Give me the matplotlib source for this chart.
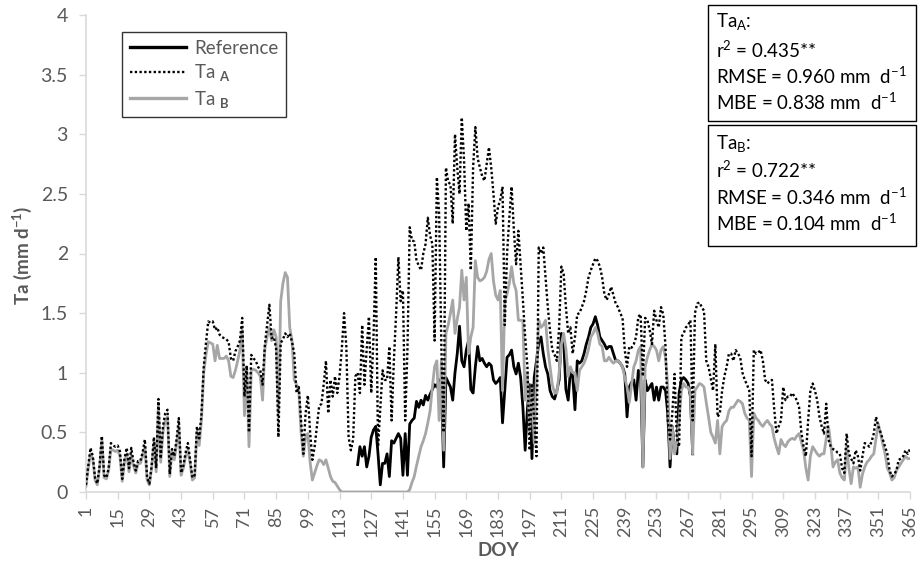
import matplotlib
matplotlib.use("Agg")
import matplotlib.pyplot as plt
from matplotlib.lines import Line2D
from matplotlib.patches import Rectangle
import numpy as np

plt.rcParams['font.family'] = ['Lato', 'DejaVu Sans']
plt.rcParams['mathtext.fontset'] = 'custom'
plt.rcParams['mathtext.rm'] = 'Lato'
plt.rcParams['mathtext.it'] = 'Lato:italic'
plt.rcParams['mathtext.bf'] = 'Lato:bold'

# ---------------- data ----------------
doy = list(range(1, 366))

ta_b = [
    0.05, 0.2, 0.32, 0.28, 0.1, 0.06, 0.2, 0.44, 0.12, 0.11,
    0.18, 0.36, 0.35, 0.34, 0.35, 0.3, 0.09, 0.25, 0.32, 0.17,
    0.31, 0.22, 0.16, 0.24, 0.24, 0.3, 0.38, 0.1, 0.06, 0.2,
    0.41, 0.17, 0.72, 0.25, 0.5, 0.6, 0.63, 0.13, 0.34, 0.27,
    0.4, 0.55, 0.14, 0.2, 0.3, 0.35, 0.24, 0.1, 0.12, 0.5,
    0.39, 0.6, 1.0, 1.15, 1.26, 1.25, 1.24, 1.1, 1.23, 1.12,
    1.12, 1.12, 1.14, 1.1, 0.97, 0.96, 1.02, 1.1, 1.19, 1.36,
    0.64, 1.05, 0.38, 1.02, 1.03, 1.02, 1.0, 0.97, 0.77, 1.2,
    1.3, 1.38, 1.27, 1.36, 1.3, 0.66, 1.6, 1.75, 1.84, 1.8,
    1.38, 1.27, 0.94, 0.9, 0.85, 0.5, 0.3, 0.46, 0.49, 0.25,
    0.1, 0.16, 0.22, 0.27, 0.26, 0.23, 0.27, 0.2, 0.13, 0.09,
    0.08, 0.05, 0.02, 0.0, 0.0, 0.0, 0.0, 0.0, 0.0, 0.0,
    0.0, 0.0, 0.0, 0.0, 0.0, 0.0, 0.0, 0.0, 0.0, 0.0,
    0.0, 0.0, 0.0, 0.0, 0.0, 0.0, 0.0, 0.0, 0.0, 0.0,
    0.0, 0.0, 0.0, 0.02, 0.08, 0.13, 0.22, 0.3, 0.38, 0.43,
    0.49, 0.58, 0.68, 0.88, 1.05, 1.1, 0.6, 1.1, 0.35, 1.33,
    1.4, 1.5, 1.61, 1.33, 1.45, 1.55, 1.86, 1.61, 1.8, 1.16,
    1.3, 1.38, 1.94, 1.8, 1.77, 1.78, 1.8, 1.85, 1.95, 2.0,
    1.77, 1.65, 1.61, 1.69, 0.85, 1.6, 1.66, 1.75, 1.89, 1.75,
    1.69, 1.44, 1.44, 1.44, 0.77, 1.0, 0.49, 0.9, 0.41, 1.0,
    1.44, 1.38, 1.4, 1.44, 1.2, 1.05, 0.9, 0.83, 0.83, 1.0,
    1.24, 1.33, 1.2, 0.97, 1.05, 1.0, 1.0, 0.85, 1.02, 1.05,
    1.08, 1.13, 1.2, 1.3, 1.33, 1.38, 1.33, 1.24, 1.22, 1.1,
    1.1, 1.13, 1.1, 1.08, 1.1, 1.1, 1.08, 1.05, 0.96, 0.88,
    0.75, 0.9, 1.05, 1.1, 1.19, 1.22, 0.21, 1.05, 1.13, 1.19,
    1.24, 1.22, 1.19, 1.1, 1.19, 1.22, 1.13, 0.88, 0.28, 0.55,
    0.32, 0.41, 0.6, 0.85, 0.91, 0.88, 0.88, 0.83, 0.32, 0.85,
    0.88, 0.91, 0.9, 0.88, 0.75, 0.63, 0.5, 0.46, 0.41, 0.6,
    0.32, 0.55, 0.58, 0.6, 0.68, 0.71, 0.71, 0.74, 0.77, 0.76,
    0.74, 0.66, 0.62, 0.6, 0.13, 0.66, 0.62, 0.6, 0.57, 0.55,
    0.58, 0.6, 0.57, 0.55, 0.45, 0.38, 0.32, 0.44, 0.4, 0.38,
    0.42, 0.44, 0.45, 0.44, 0.47, 0.49, 0.42, 0.35, 0.2, 0.1,
    0.3, 0.38, 0.35, 0.32, 0.3, 0.32, 0.32, 0.45, 0.55, 0.4,
    0.21, 0.25, 0.27, 0.16, 0.12, 0.1, 0.38, 0.2, 0.07, 0.21,
    0.2, 0.21, 0.04, 0.15, 0.21, 0.25, 0.27, 0.3, 0.32, 0.45,
    0.57, 0.49, 0.4, 0.32, 0.2, 0.16, 0.1, 0.12, 0.18, 0.21,
    0.24, 0.27, 0.3, 0.28, 0.28,
]

ta_a = [
    0.06, 0.22, 0.37, 0.3, 0.12, 0.07, 0.22, 0.47, 0.14, 0.12,
    0.2, 0.41, 0.39, 0.38, 0.39, 0.34, 0.11, 0.28, 0.37, 0.2,
    0.37, 0.25, 0.18, 0.26, 0.26, 0.33, 0.44, 0.12, 0.07, 0.22,
    0.46, 0.2, 0.78, 0.28, 0.55, 0.66, 0.69, 0.15, 0.36, 0.3,
    0.44, 0.62, 0.16, 0.22, 0.33, 0.41, 0.27, 0.12, 0.14, 0.55,
    0.45, 0.65, 1.05, 1.25, 1.43, 1.42, 1.43, 1.36, 1.38, 1.32,
    1.3, 1.29, 1.28, 1.26, 1.12, 1.1, 1.18, 1.22, 1.27, 1.46,
    0.8, 1.06, 0.5, 1.15, 1.12, 1.1, 1.05, 1.02, 0.9, 1.23,
    1.4, 1.57, 1.29, 1.3, 1.2, 0.46, 1.25, 1.28, 1.33, 1.3,
    1.33, 1.26, 1.16, 0.83, 0.88, 0.6, 0.32, 0.66, 0.81, 0.5,
    0.27, 0.38, 0.55, 0.72, 0.74, 0.9, 1.1, 0.66, 0.94, 0.8,
    0.97, 0.83, 0.97, 1.2, 1.5, 1.22, 0.46, 0.35, 0.44, 0.97,
    1.0, 0.83, 1.4, 0.9, 1.2, 1.47, 0.83, 1.3, 1.97, 0.38,
    0.7, 1.02, 0.94, 0.94, 1.22, 0.6, 1.1, 1.5, 1.97, 1.6,
    1.69, 0.6, 1.2, 2.22, 2.11, 2.1, 1.94, 1.9, 1.86, 2.0,
    2.08, 2.3, 2.15, 2.08, 1.27, 2.64, 2.33, 1.2, 0.5, 2.72,
    2.6, 2.58, 2.25, 3.0, 2.72, 2.5, 3.14, 2.78, 2.19, 2.42,
    1.86, 2.72, 3.06, 2.8, 2.72, 2.65, 2.61, 2.75, 2.89, 2.72,
    2.5, 2.25, 2.39, 2.45, 2.56, 1.4, 2.0, 2.3, 2.56, 2.2,
    1.91, 2.19, 1.9, 1.61, 1.3, 1.05, 0.35, 0.91, 0.6, 0.3,
    2.05, 2.0, 2.05, 1.8, 1.55, 1.35, 1.19, 1.15, 1.1, 1.38,
    1.89, 1.83, 1.55, 1.33, 1.38, 1.16, 1.3, 1.49, 1.5, 1.55,
    1.6, 1.69, 1.8, 1.86, 1.91, 1.96, 1.94, 1.89, 1.8, 1.66,
    1.61, 1.66, 1.72, 1.65, 1.58, 1.55, 1.5, 1.46, 1.19, 1.05,
    1.22, 1.21, 1.24, 1.3, 1.47, 1.49, 0.97, 1.46, 1.44, 1.36,
    1.24, 1.52, 1.44, 1.38, 1.55, 1.49, 1.22, 0.6, 0.44, 0.66,
    0.99, 0.45, 0.38, 1.3, 1.33, 1.38, 1.4, 1.44, 0.6, 1.5,
    1.58, 1.59, 1.55, 1.52, 1.1, 1.05, 0.95, 0.85, 1.24, 0.63,
    0.66, 0.85, 0.97, 1.05, 1.16, 1.16, 1.1, 1.19, 1.16, 1.13,
    1.0, 0.94, 0.9, 0.85, 0.3, 1.19, 1.16, 1.17, 1.19, 1.1,
    0.94, 0.91, 0.93, 0.94, 0.7, 0.49, 0.55, 0.6, 0.88, 0.77,
    0.8, 0.8, 0.83, 0.8, 0.77, 0.71, 0.5, 0.38, 0.3, 0.6,
    0.85, 0.91, 0.85, 0.77, 0.63, 0.55, 0.49, 0.74, 0.44, 0.38,
    0.36, 0.35, 0.33, 0.32, 0.2, 0.16, 0.49, 0.32, 0.28, 0.24,
    0.35, 0.3, 0.18, 0.3, 0.41, 0.4, 0.38, 0.42, 0.49, 0.63,
    0.55, 0.5, 0.44, 0.38, 0.32, 0.18, 0.13, 0.15, 0.18, 0.27,
    0.28, 0.3, 0.35, 0.32, 0.36,
]

ref_doy = list(range(121, 270))
ref = [
    0.23, 0.38, 0.3, 0.38, 0.21, 0.3, 0.46, 0.52, 0.55, 0.32,
    0.06, 0.24, 0.24, 0.32, 0.13, 0.43, 0.41, 0.45, 0.49, 0.45,
    0.14, 0.49, 0.14, 0.57, 0.6, 0.62, 0.76, 0.71, 0.77, 0.73,
    0.81, 0.77, 0.82, 0.86, 0.9, 0.88, 0.94, 0.92, 0.21, 0.96,
    0.92, 0.88, 0.77, 1.0, 1.16, 1.39, 1.1, 1.05, 1.19, 1.27,
    0.86, 0.83, 1.05, 1.22, 1.1, 1.12, 1.08, 1.05, 1.08, 1.06,
    0.94, 0.91, 0.93, 0.96, 0.58, 0.86, 1.13, 1.15, 1.19, 1.05,
    0.99, 1.08, 0.96, 0.71, 0.35, 0.7, 0.9, 0.28, 0.96, 1.1,
    1.25, 1.3, 1.16, 1.05, 0.99, 0.85, 0.8, 0.78, 0.85, 0.94,
    1.33, 1.27, 0.86, 0.77, 1.02, 0.97, 0.69, 1.1, 1.08, 1.1,
    1.16, 1.24, 1.3, 1.38, 1.41, 1.47, 1.4, 1.3, 1.27, 1.24,
    1.2, 1.22, 1.22, 1.16, 1.1, 1.1, 1.08, 1.05, 0.99, 0.63,
    0.88, 0.92, 0.94, 0.77, 1.02, 1.0, 0.21, 0.94, 0.85, 0.88,
    0.91, 0.77, 0.88, 0.77, 0.88, 0.88, 0.85, 0.66, 0.21, 0.55,
    0.35, 0.32, 0.83, 0.94, 0.96, 0.94, 0.91, 0.8, 0.32,
]

x_ticks = list(range(1, 366, 14))
y_ticks = [0, 0.5, 1, 1.5, 2, 2.5, 3, 3.5, 4]
y_tick_labels = ['0', '0.5', '1', '1.5', '2', '2.5', '3', '3.5', '4']

stats_a = ['Ta$_{\\mathrm{A}}$:', 'r$^{2}$ = 0.435**', 'RMSE = 0.960 mm  d$^{-1}$', 'MBE = 0.838 mm  d$^{-1}$']
stats_b = ['Ta$_{\\mathrm{B}}$:', 'r$^{2}$ = 0.722**', 'RMSE = 0.346 mm  d$^{-1}$', 'MBE = 0.104 mm  d$^{-1}$']

# ---------------- figure ----------------
W, H = 921, 569
fig = plt.figure(figsize=(W / 100, H / 100), dpi=100)

def fx(px):
    return px / W

def fy(py):
    return 1 - py / H

ax = fig.add_axes([fx(86), fy(492), fx(910) - fx(86), fy(15) - fy(492)])

gray_txt = '#595959'
axis_col = '#d9d9d9'
dot_style = (0, (1, 1.0))

ax.plot(ref_doy, ref, color='black', lw=2.0, zorder=3, solid_joinstyle='round')
ax.plot(doy, ta_b, color='#a6a6a6', lw=2.0, zorder=4, solid_joinstyle='round')
ax.plot(doy, ta_a, color='black', lw=1.7, linestyle=dot_style, zorder=5)

ax.set_xlim(1, 365)
ax.set_ylim(0, 4)
ax.set_xticks(x_ticks)
ax.set_xticklabels([str(t) for t in x_ticks], rotation=90, fontsize=13, color=gray_txt)
ax.set_yticks(y_ticks)
ax.set_yticklabels(y_tick_labels, fontsize=14, color=gray_txt)
ax.tick_params(axis='both', colors=axis_col, length=5, width=1)
for lab in ax.get_xticklabels() + ax.get_yticklabels():
    lab.set_color(gray_txt)
ax.tick_params(axis='x', pad=5)
ax.tick_params(axis='y', pad=8)

for s in ['top', 'right']:
    ax.spines[s].set_visible(False)
for s in ['left', 'bottom']:
    ax.spines[s].set_color(axis_col)
    ax.spines[s].set_linewidth(1.2)

fig.text(fx(22), fy(255), 'Ta (mm d$^{\\mathbf{-1}}$)', rotation=90, ha='center', va='center',
         fontsize=13.5, fontweight='bold', color=gray_txt)
fig.text(fx(498), fy(551), 'DOY', ha='center', va='center', fontsize=13.5,
         fontweight='bold', color=gray_txt)

# legend
handles = [
    Line2D([], [], color='black', lw=2.4),
    Line2D([], [], color='black', lw=1.7, linestyle=dot_style),
    Line2D([], [], color='#a6a6a6', lw=2.4),
]
labels = ['Reference', 'Ta $_{\\mathbf{A}}$', 'Ta $_{\\mathbf{B}}$']
leg = ax.legend(handles, labels, loc='upper left', bbox_to_anchor=(fx(122), fy(32)),
                bbox_transform=fig.transFigure, fancybox=False, frameon=True,
                edgecolor='black', fontsize=13.5, handlelength=3.0, handletextpad=0.45,
                labelspacing=0.3, borderpad=0.4, borderaxespad=0)
leg.get_frame().set_linewidth(1.0)
for t in leg.get_texts():
    t.set_color(gray_txt)

# stats boxes
def stats_box(top, bottom, lines, ys):
    fig.patches.append(Rectangle((fx(708), fy(bottom)), fx(916) - fx(708), fy(top) - fy(bottom),
                                 transform=fig.transFigure, fill=False, edgecolor='black', lw=1.0))
    for s, yy in zip(lines, ys):
        fig.text(fx(716), fy(yy), s, ha='left', va='center', fontsize=13.5, color='black')

stats_box(5, 121, stats_a, [21, 50, 76, 102])
stats_box(125, 246, stats_b, [144, 170, 197, 223])

fig.savefig('out.png', dpi=100)
